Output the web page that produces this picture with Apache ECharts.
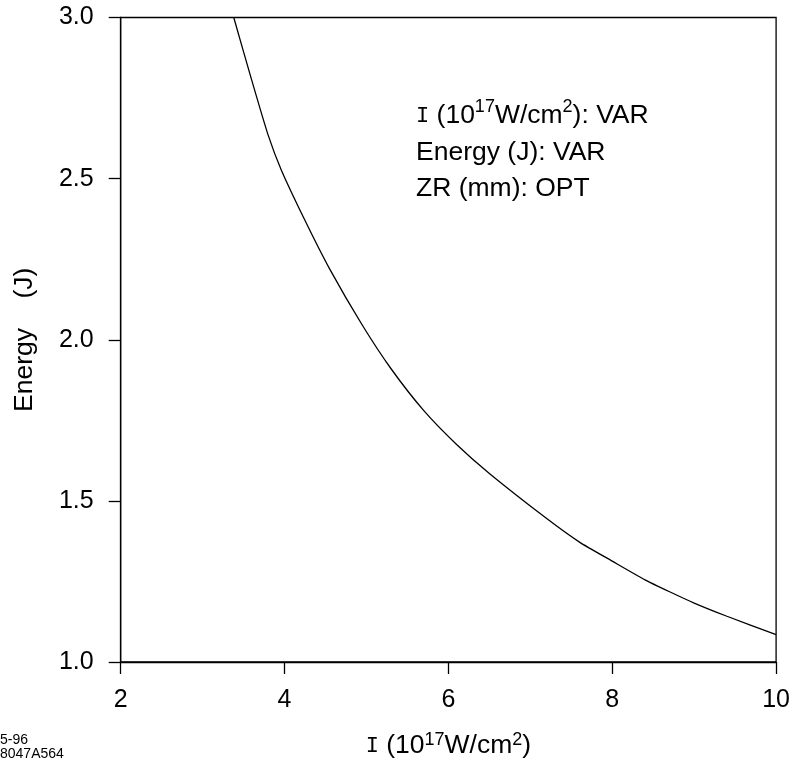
<!DOCTYPE html>
<html>
<head>
<meta charset="utf-8">
<script src="https://cdn.jsdelivr.net/npm/echarts@6/dist/echarts.min.js"></script>
<style>
  html, body { margin: 0; padding: 0; background: #fff; }
  #chart { width: 793px; height: 766px; }
</style>
</head>
<body>
<div id="chart"></div>
<script>
// Required pulse energy versus laser intensity
const intensity = [3.38, 3.6, 3.8, 3.96, 4.25, 4.55, 4.95, 5.3, 5.7, 6.1, 6.5, 7.2, 7.6, 8.0, 8.4, 8.7, 9.0, 9.4, 10.0];
const energy    = [3.0, 2.805, 2.635, 2.527, 2.37, 2.22, 2.045, 1.91, 1.78, 1.675, 1.585, 1.445, 1.372, 1.313, 1.255, 1.218, 1.183, 1.142, 1.085];

const xTicks = [2, 4, 6, 8, 10];
const yTicks = [1.0, 1.5, 2.0, 2.5, 3.0];

const legendLines = [
  '{i|I} (10{sup|17}W/cm{sup|2}): VAR',
  'Energy (J): VAR',
  'ZR (mm): OPT'
];
const stamp = ['5-96', '8047A564'];

const FONT = '"Liberation Sans", Arial, Helvetica, sans-serif';
const MONO = '"Liberation Mono", "DejaVu Sans Mono", monospace';

const chart = echarts.init(document.getElementById('chart'), null, { renderer: 'canvas' });

chart.setOption({
  backgroundColor: '#fff',
  animation: false,
  grid: {
    left: 120.7, right: 15.7, top: 17.5, bottom: 103.3,
    show: true, borderColor: '#000', borderWidth: 1.3, backgroundColor: 'transparent'
  },
  xAxis: {
    type: 'value',
    min: xTicks[0], max: xTicks[xTicks.length - 1], interval: 2,
    name: '{i|I} (10{sup|17}W/cm{sup|2})',
    nameLocation: 'middle',
    nameGap: 69,
    nameTextStyle: {
      fontFamily: FONT, fontSize: 26.5, color: '#000', lineHeight: 30,
      rich: {
        i: { fontFamily: MONO, fontSize: 22, color: '#000', lineHeight: 30 },
        sup: { fontFamily: FONT, fontSize: 18, color: '#000', lineHeight: 18, verticalAlign: 'top' }
      }
    },
    axisLine: { show: true, lineStyle: { color: '#000', width: 1.3 } },
    axisTick: { show: true, inside: false, length: 12, lineStyle: { color: '#000', width: 1.3 } },
    axisLabel: { fontFamily: FONT, fontSize: 25, color: '#000', margin: 26 },
    splitLine: { show: false }
  },
  yAxis: {
    type: 'value',
    min: yTicks[0], max: yTicks[yTicks.length - 1], interval: 0.5,
    name: 'Energy    (J)',
    nameLocation: 'middle',
    nameRotate: 90,
    nameGap: 83,
    nameTextStyle: { fontFamily: FONT, fontSize: 26.5, color: '#000' },
    axisLine: { show: true, lineStyle: { color: '#000', width: 1.3 } },
    axisTick: { show: true, inside: false, length: 12, lineStyle: { color: '#000', width: 1.3 } },
    axisLabel: {
      fontFamily: FONT, fontSize: 25, color: '#000', margin: 27,
      formatter: v => v.toFixed(1)
    },
    splitLine: { show: false }
  },
  series: [{
    type: 'line',
    data: intensity.map((x, k) => [x, energy[k]]),
    showSymbol: false,
    smooth: 0.2,
    clip: true,
    lineStyle: { color: '#000', width: 1.3 }
  }],
  graphic: [
    {
      type: 'text', left: 416, top: 97.6,
      style: {
        text: legendLines.join('\n'),
        fontFamily: FONT, fontSize: 26.5, fill: '#000', lineHeight: 36.5,
        rich: {
          i: { fontFamily: MONO, fontSize: 22, fill: '#000', lineHeight: 36.5 },
          sup: { fontFamily: FONT, fontSize: 18, fill: '#000', lineHeight: 24, verticalAlign: 'top' }
        }
      }
    },
    {
      type: 'text', left: 0, top: 733,
      style: {
        text: stamp.join('\n'),
        fontFamily: FONT, fontSize: 14, fill: '#000', lineHeight: 14
      }
    }
  ]
});
</script>
</body>
</html>
